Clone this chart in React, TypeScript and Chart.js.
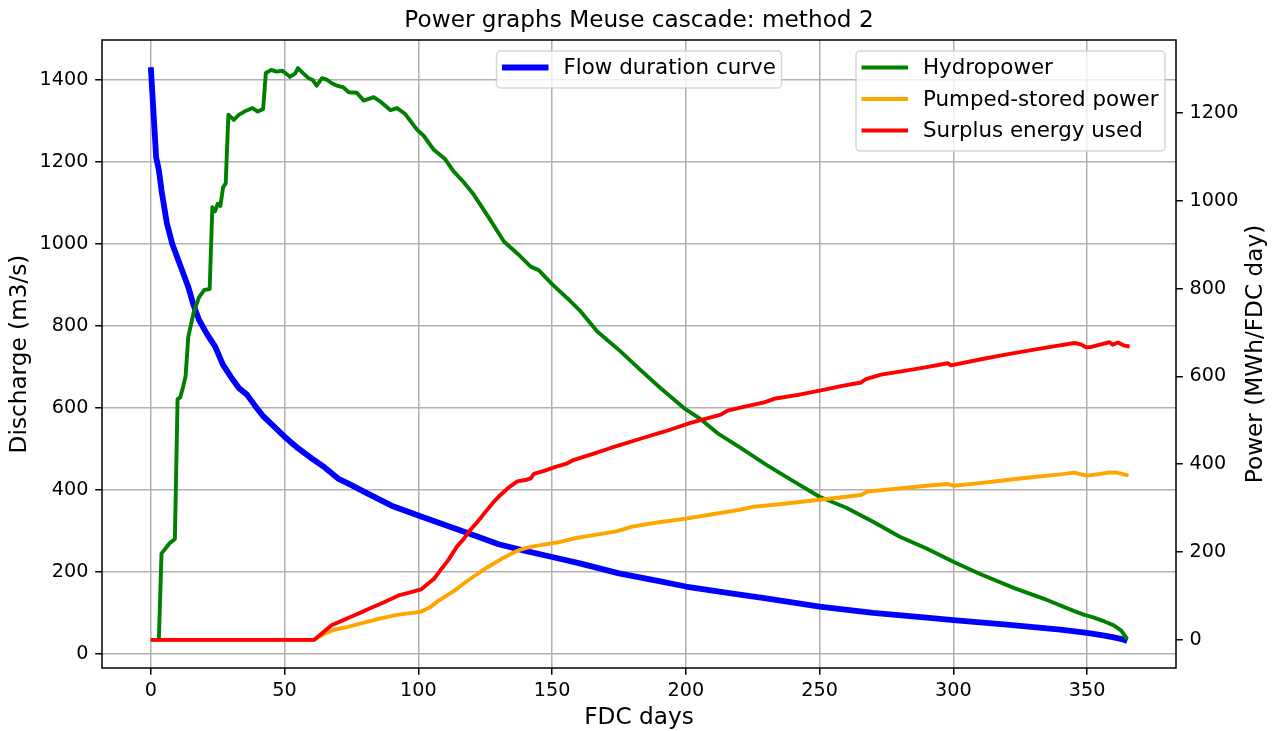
import React, { useEffect, useRef } from "react";
import { Chart, registerables } from "chart.js";

Chart.register(...registerables);

// ---------- data ----------
const flowDays = [0, 2, 3, 4, 6, 8, 10, 12, 14, 16, 18, 21, 24, 27, 30, 33, 36, 39, 42, 46, 50, 55, 60, 65, 70, 75, 80, 90, 100, 110, 120, 130, 140, 150, 160, 175, 190, 200, 215, 230, 250, 270, 290, 300, 320, 340, 350, 356, 360, 363, 365];
const flowValues = [1430, 1210, 1180, 1130, 1050, 1000, 965, 930, 895, 850, 815, 780, 750, 705, 675, 648, 632, 605, 580, 555, 530, 502, 478, 455, 428, 412, 395, 362, 338, 315, 292, 268, 252, 237, 222, 197, 178, 165, 150, 136, 116, 101, 89, 83, 72, 60, 52, 46, 41, 37, 32];

const hydroDays = [0, 3, 4, 6, 7, 9, 10, 11, 12, 13, 14, 16, 18, 20, 22, 23, 24, 25, 26, 27, 28, 29, 31, 33, 35, 38, 40, 42, 43, 45, 47, 49, 50.5, 52, 54, 55, 57, 59, 60.5, 62, 64, 66, 67.5, 69.6, 72, 74, 77, 79.6, 81.5, 83.3, 86, 89.6, 92, 95, 99.5, 102, 105.8, 110, 113.2, 117, 120.7, 126, 132, 137, 142, 145, 150, 155.7, 160.7, 166.9, 175.6, 183, 190.6, 199.3, 205, 211.8, 220.5, 230, 240, 250, 260, 270, 280, 290, 300, 310, 322.8, 335, 345, 349, 352, 356.5, 360, 362.8, 365];
const hydroValues = [0, 0, 197, 212, 220, 230, 548, 552, 575, 600, 690, 745, 780, 797, 799, 985, 976, 993, 988, 1030, 1040, 1196, 1184, 1196, 1203, 1211, 1203, 1209, 1291, 1298, 1294, 1296, 1290, 1282, 1290, 1302, 1290, 1279, 1275, 1262, 1279, 1275, 1268, 1262, 1258, 1247, 1246, 1228, 1232, 1236, 1225, 1206, 1211, 1198, 1162, 1148, 1116, 1095, 1067, 1042, 1014, 965, 907, 880, 850, 842, 810, 778, 748, 702, 657, 615, 573, 528, 505, 471, 437, 399, 362, 326, 301, 269, 235, 208, 178, 150, 118, 91, 66, 57, 52, 42, 33, 21, 2];

const pumpDays = [0, 61, 62, 65, 68, 74, 80, 86, 92, 97, 101, 104, 108, 113, 118, 122, 126, 131, 137, 140, 143, 148, 153, 159, 165, 174, 180, 190, 200, 210, 220, 225, 235, 250, 260, 265.5, 268, 280, 290, 298, 300, 310, 320, 330, 340, 345, 350, 355, 358, 361, 363, 365.5];
const pumpValues = [0, 0, 4, 14, 22, 30, 40, 49, 57, 61, 64, 73, 91, 110, 133, 150, 166, 184, 203, 209, 213, 218, 223, 232, 238, 247, 258, 268, 276, 286, 296, 303, 309, 319, 326, 330, 338, 345, 351, 355, 351, 357, 364, 371, 377, 381, 374, 378, 381, 381, 378, 374];

const surplusDays = [0, 61, 64, 67.7, 72, 74.6, 78, 82, 87, 93, 97, 101, 103, 106, 108.3, 111, 114.5, 117, 119.5, 122, 125.7, 128, 130.7, 134, 137, 140, 142, 143.2, 147, 150.7, 155.7, 158.2, 165.6, 171.9, 175.6, 183, 191.8, 201.8, 213.1, 215.6, 222, 229.3, 233, 242, 250.5, 258, 265.5, 267.3, 273, 284, 290, 297.9, 299.1, 310.4, 320, 330.3, 338, 345.3, 347.7, 349.7, 351.6, 358.4, 359.6, 361.5, 364, 365.9];
const surplusValues = [0, 0, 15, 34, 45, 52, 61, 72, 85, 102, 108, 115, 125, 140, 159, 180, 213, 230, 251, 268, 296, 313, 330, 348, 361, 364, 368, 378, 385, 393, 402, 410, 424, 437, 444, 458, 474, 494, 513, 522, 531, 541, 549, 558, 568, 578, 586, 594, 604, 615, 621, 630, 625, 639, 650, 661, 669, 676, 673, 666, 667, 678, 672, 677, 670, 668];

const xTicks = [0, 50, 100, 150, 200, 250, 300, 350];
const leftTicks = [0, 200, 400, 600, 800, 1000, 1200, 1400];
const rightTicks = [0, 200, 400, 600, 800, 1000, 1200];

const titleText = "Power graphs Meuse cascade: method 2";
const xLabel = "FDC days";
const leftLabel = "Discharge (m3/s)";
const rightLabel = "Power (MWh/FDC day)";

const FONT = "'DejaVu Sans', sans-serif";

const pts = (xs: number[], ys: number[]) => xs.map((x, i) => ({ x, y: ys[i] }));

type LegendItem = { label: string; color: string; width: number };

function drawLegend(
  ctx: CanvasRenderingContext2D,
  left: number,
  top: number,
  w: number,
  items: LegendItem[]
) {
  const rowH = 31.5;
  const h = 16.3 + 20.7 + (items.length - 1) * rowH;
  const r = 4;
  ctx.save();
  ctx.beginPath();
  ctx.moveTo(left + r, top);
  ctx.lineTo(left + w - r, top);
  ctx.arcTo(left + w, top, left + w, top + r, r);
  ctx.lineTo(left + w, top + h - r);
  ctx.arcTo(left + w, top + h, left + w - r, top + h, r);
  ctx.lineTo(left + r, top + h);
  ctx.arcTo(left, top + h, left, top + h - r, r);
  ctx.lineTo(left, top + r);
  ctx.arcTo(left, top, left + r, top, r);
  ctx.closePath();
  ctx.fillStyle = "rgba(255,255,255,0.8)";
  ctx.fill();
  ctx.strokeStyle = "rgba(204,204,204,0.8)";
  ctx.lineWidth = 1.5;
  ctx.stroke();
  items.forEach((it, i) => {
    const y = top + 16.5 + i * rowH;
    ctx.beginPath();
    ctx.strokeStyle = it.color;
    ctx.lineWidth = it.width;
    ctx.lineCap = "butt";
    ctx.moveTo(left + 5.5, y);
    ctx.lineTo(left + 52, y);
    ctx.stroke();
    ctx.fillStyle = "#000";
    ctx.font = `21.4px ${FONT}`;
    ctx.textAlign = "left";
    ctx.textBaseline = "middle";
    ctx.fillText(it.label, left + 67, y + 1);
  });
  ctx.restore();
}

const decorPlugin = {
  id: "decor",
  afterDatasetsDraw(chart: any) {
    const ctx: CanvasRenderingContext2D = chart.ctx;
    const a = chart.chartArea;
    ctx.save();
    ctx.strokeStyle = "#000";
    ctx.lineWidth = 1.5;
    ctx.strokeRect(a.left, a.top, a.right - a.left, a.bottom - a.top);
    ctx.restore();

    const cx = (a.left + a.right) / 2;
    const w1 = 285;
    drawLegend(ctx, cx - w1 / 2, a.top + 11, w1, [
      { label: "Flow duration curve", color: "#0000ff", width: 5.8 },
    ]);
    const w2 = 309;
    drawLegend(ctx, a.right - 11 - w2, a.top + 11, w2, [
      { label: "Hydropower", color: "#008000", width: 3.9 },
      { label: "Pumped-stored power", color: "#ffa500", width: 3.9 },
      { label: "Surplus energy used", color: "#ff0000", width: 3.9 },
    ]);
  },
  afterDraw(chart: any) {
    const ctx: CanvasRenderingContext2D = chart.ctx;
    const a = chart.chartArea;
    const cx = (a.left + a.right) / 2;
    const cy = (a.top + a.bottom) / 2;
    ctx.save();
    ctx.fillStyle = "#000";
    ctx.textAlign = "center";
    ctx.textBaseline = "middle";
    ctx.font = `23.2px ${FONT}`;
    ctx.fillText(titleText, cx, 21);
    ctx.fillText(xLabel, cx, 718);
    ctx.save();
    ctx.translate(20, cy);
    ctx.rotate(-Math.PI / 2);
    ctx.fillText(leftLabel, 0, 0);
    ctx.restore();
    ctx.save();
    ctx.translate(1256, cy);
    ctx.rotate(-Math.PI / 2);
    ctx.fillText(rightLabel, 0, 0);
    ctx.restore();
    ctx.restore();
  },
};

export default function App() {
  const ref = useRef<HTMLCanvasElement | null>(null);

  useEffect(() => {
    if (!ref.current) return;
    const lineBase = {
      pointRadius: 0,
      pointHoverRadius: 0,
      tension: 0,
      fill: false,
      borderJoinStyle: "round" as const,
      borderCapStyle: "butt" as const,
    };
    const tickFont = { family: FONT, size: 19.2 };
    const plain = (v: any) => String(v);
    const chart = new Chart(ref.current, {
      type: "line",
      data: {
        datasets: [
          {
            ...lineBase,
            label: "Surplus energy used",
            data: pts(surplusDays, surplusValues),
            borderColor: "#ff0000",
            borderWidth: 3.9,
            yAxisID: "y1",
          },
          {
            ...lineBase,
            label: "Pumped-stored power",
            data: pts(pumpDays, pumpValues),
            borderColor: "#ffa500",
            borderWidth: 3.9,
            yAxisID: "y1",
          },
          {
            ...lineBase,
            label: "Hydropower",
            data: pts(hydroDays, hydroValues),
            borderColor: "#008000",
            borderWidth: 3.9,
            yAxisID: "y1",
          },
          {
            ...lineBase,
            label: "Flow duration curve",
            data: pts(flowDays, flowValues),
            borderColor: "#0000ff",
            borderWidth: 5.8,
            yAxisID: "y",
          },
        ],
      },
      options: {
        animation: false,
        responsive: false,
        devicePixelRatio: 1,
        layout: { padding: { top: 40, left: 0, right: 0, bottom: 0 } },
        plugins: {
          legend: { display: false },
          title: { display: false },
          tooltip: { enabled: false },
        },
        scales: {
          x: {
            type: "linear",
            min: -18.25,
            max: 383.25,
            afterBuildTicks: (s: any) => {
              s.ticks = xTicks.map((v) => ({ value: v }));
            },
            afterFit: (s: any) => {
              s.height = 63;
            },
            grid: {
              color: "#b0b0b0",
              lineWidth: 1.5,
              tickColor: "#000",
              tickLength: 6.8,
              drawTicks: true,
            },
            border: { display: false },
            ticks: {
              font: tickFont,
              color: "#000",
              padding: 5,
              autoSkip: false,
              maxRotation: 0,
              callback: plain,
            },
          },
          y: {
            type: "linear",
            position: "left",
            min: -33.5,
            max: 1496.5,
            afterBuildTicks: (s: any) => {
              s.ticks = leftTicks.map((v) => ({ value: v }));
            },
            afterFit: (s: any) => {
              s.width = 102;
            },
            grid: {
              color: "#b0b0b0",
              lineWidth: 1.5,
              tickColor: "#000",
              tickLength: 6.8,
            },
            border: { display: false },
            ticks: {
              font: tickFont,
              color: "#000",
              padding: 6.8,
              autoSkip: false,
              callback: plain,
            },
          },
          y1: {
            type: "linear",
            position: "right",
            min: -64,
            max: 1366,
            afterBuildTicks: (s: any) => {
              s.ticks = rightTicks.map((v) => ({ value: v }));
            },
            afterFit: (s: any) => {
              s.width = 96;
            },
            grid: {
              drawOnChartArea: false,
              color: "#000",
              lineWidth: 1.5,
              tickColor: "#000",
              tickLength: 6.8,
            },
            border: { display: false },
            ticks: {
              font: tickFont,
              color: "#000",
              padding: 6.8,
              autoSkip: false,
              callback: plain,
            },
          },
        },
      },
      plugins: [decorPlugin],
    } as any);
    return () => chart.destroy();
  }, []);

  return (
    <div style={{ position: "absolute", left: 0, top: 0, width: 1272, height: 731, background: "#fff" }}>
      <canvas ref={ref} width={1272} height={731} />
    </div>
  );
}
